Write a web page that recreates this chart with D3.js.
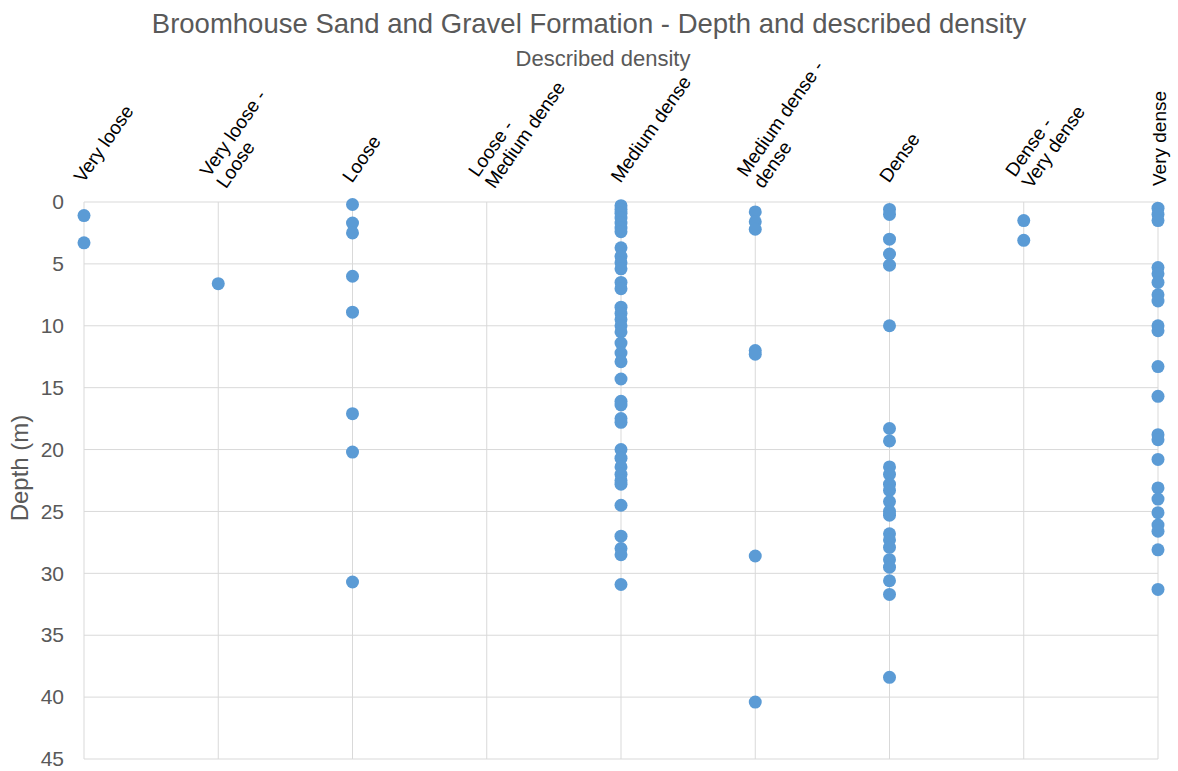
<!DOCTYPE html>
<html>
<head>
<meta charset="utf-8">
<script src="https://cdn.jsdelivr.net/npm/d3@7"></script>
<style>
  body { margin: 0; background: #fff; }
  text { font-family: "Liberation Sans", Arial, sans-serif; }
</style>
</head>
<body>
<div class="container"></div>
<script>
// categories along the x axis
const categories = ["Very loose", "Very loose - Loose", "Loose", "Loose - Medium dense",
  "Medium dense", "Medium dense - dense", "Dense", "Dense - Very dense", "Very dense"];

// depths (m) read for each category
const veryLoose = [1.1, 3.3];
const veryLooseLoose = [6.6];
const loose = [0.2, 1.7, 2.5, 6.0, 8.9, 17.1, 20.2, 30.7];
const looseMedium = [];
const mediumDense = [0.3, 0.6, 0.9, 1.3, 1.7, 2.1, 2.4, 3.7, 4.4, 4.9, 5.4, 6.5, 7.0, 8.5, 9.0,
  9.5, 10.0, 10.5, 11.4, 12.2, 12.9, 14.3, 16.1, 16.4, 17.5, 17.8, 20.0, 20.7, 21.4, 22.0,
  22.5, 22.8, 24.5, 27.0, 28.0, 28.5, 30.9];
const mediumDenseDense = [0.8, 1.6, 2.2, 12.0, 12.3, 28.6, 40.4];
const dense = [0.6, 1.0, 3.0, 4.2, 5.1, 10.0, 18.3, 19.3, 21.4, 22.0, 22.8, 23.3, 24.2, 25.0,
  25.3, 26.8, 27.3, 27.9, 28.9, 29.5, 30.6, 31.7, 38.4];
const denseVeryDense = [1.5, 3.1];
const veryDense = [0.5, 1.0, 1.5, 5.3, 5.8, 6.5, 7.5, 8.0, 10.0, 10.4, 13.3, 15.7, 18.8, 19.2,
  20.8, 23.1, 24.0, 25.1, 26.1, 26.6, 28.1, 31.3];

const depthTicks = [0, 5, 10, 15, 20, 25, 30, 35, 40, 45];

const series = [veryLoose, veryLooseLoose, loose, looseMedium, mediumDense,
  mediumDenseDense, dense, denseVeryDense, veryDense];

const points = [];
series.forEach((arr, i) => arr.forEach(d => points.push({cat: categories[i], depth: d})));

const width = 1178, height = 771;
const svg = d3.select(".container").append("svg")
  .attr("width", width)
  .attr("height", height);

const x = d3.scalePoint()
  .domain(categories)
  .range([84, 1158]);

const y = d3.scaleLinear()
  .domain([0, 45])
  .range([202, 759]);

// horizontal grid
svg.append("g")
  .selectAll("line")
  .data(depthTicks)
  .enter()
  .append("line")
  .attr("x1", 84)
  .attr("x2", 1158)
  .attr("y1", d => y(d))
  .attr("y2", d => y(d))
  .attr("stroke", "#d9d9d9")
  .attr("stroke-width", 1);

// vertical grid, one per category
svg.append("g")
  .selectAll("line")
  .data(categories)
  .enter()
  .append("line")
  .attr("x1", d => x(d))
  .attr("x2", d => x(d))
  .attr("y1", y(0))
  .attr("y2", y(45))
  .attr("stroke", "#d9d9d9")
  .attr("stroke-width", 1);

// y axis labels
const yAxis = d3.axisLeft(y).tickValues(depthTicks).tickSize(0).tickPadding(0);
const yAxisGroup = svg.append("g")
  .attr("transform", "translate(64,0)")
  .call(yAxis);
yAxisGroup.select(".domain").remove();
yAxisGroup.selectAll("text")
  .attr("fill", "#595959")
  .style("font-size", "21px")
  .style("font-family", "'Liberation Sans', Arial, sans-serif");

// category labels
const labels = svg.append("g")
  .selectAll("g")
  .data(categories)
  .enter()
  .append("g")
  .attr("transform", (d, i) => i === categories.length - 1
    ? `translate(${x(d) + 1}, 186) rotate(-90)`
    : `translate(${x(d) - 6}, 180) rotate(-55)`);

labels.each(function(d) {
  const parts = d.split(" - ");
  const lines = parts.length > 1 ? [parts[0] + " -", parts[1]] : [d];
  const lh = 20;
  const t = d3.select(this).append("text")
    .attr("fill", "#000")
    .style("font-size", "19px")
    .attr("text-anchor", "start");
  lines.forEach((l, j) => {
    t.append("tspan")
      .attr("x", 0)
      .attr("y", (j - (lines.length - 1) / 2) * lh)
      .attr("dy", "0.35em")
      .text(l);
  });
});

// dots
svg.append("g")
  .selectAll("circle")
  .data(points)
  .enter()
  .append("circle")
  .attr("cx", d => x(d.cat))
  .attr("cy", d => y(d.depth))
  .attr("r", 6.5)
  .attr("fill", "#5b9bd5");

// titles
svg.append("text")
  .attr("x", 589)
  .attr("y", 33)
  .attr("text-anchor", "middle")
  .attr("fill", "#595959")
  .style("font-size", "27.5px")
  .text("Broomhouse Sand and Gravel Formation - Depth and described density");

svg.append("text")
  .attr("x", 603)
  .attr("y", 66)
  .attr("text-anchor", "middle")
  .attr("fill", "#595959")
  .style("font-size", "22px")
  .text("Described density");

svg.append("text")
  .attr("transform", "translate(28,468) rotate(-90)")
  .attr("text-anchor", "middle")
  .attr("fill", "#595959")
  .style("font-size", "24px")
  .text("Depth (m)");
</script>
</body>
</html>
